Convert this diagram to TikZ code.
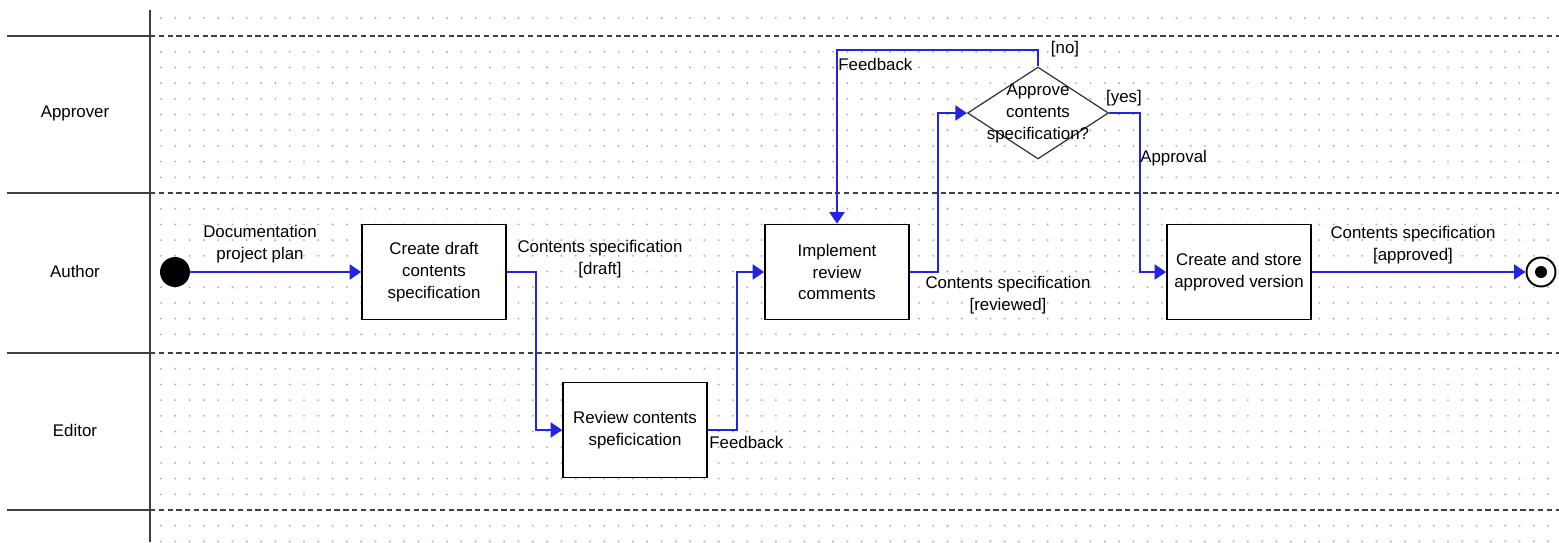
\documentclass[tikz,border=0pt]{standalone}
\usepackage{fontspec}
\setmainfont{Liberation Sans}
\usetikzlibrary{arrows.meta, shapes.geometric}

\definecolor{flowblue}{RGB}{35,35,225}
\definecolor{lanegray}{RGB}{64,64,64}
\definecolor{dotgray}{RGB}{175,175,175}

\begin{document}
\begin{tikzpicture}[x=0.02cm, y=-0.02cm, font=\fontsize{9.6pt}{12.5pt}\selectfont]

    % --- Grundeinstellungen für Styles ---
    \tikzset{
        lane/.style={draw=lanegray, line width=1.3pt},
        lanesep/.style={draw=lanegray, line width=1pt, dash pattern=on 3pt off 2pt},
        activity/.style={draw, fill=white, line width=1pt, minimum width=2.88cm, minimum height=1.9cm, align=center, inner sep=1pt},
        decision/.style={diamond, draw=black!80, fill=white, line width=0.7pt, minimum width=2.82cm, minimum height=1.84cm, inner sep=0pt},
        flow/.style={draw=flowblue, line width=1.1pt, -{Triangle[length=6.5pt, width=8.5pt]}},
        flowlabel/.style={align=center, inner sep=0pt}
    }

    % Hintergrund und Rahmen
    \fill[white] (0,0) rectangle (1559,542);
    \useasboundingbox (0,0) rectangle (1559,542);

    % --- 1. Punktraster ---
    \foreach \x in {0,...,97}
        \fill[dotgray] ({161+14.3*\x},18) circle (0.6pt);
    \foreach \top/\n in {36/9, 193/9, 353/9, 510/2}
        \foreach \k in {1,...,\n}
            \foreach \x in {0,...,97}
                \fill[dotgray] ({161+14.3*\x},{\top+15.7*\k}) circle (0.6pt);

    % --- 2. Swimlanes ---
    \draw[lane] (150,10) -- (150,542);
    \foreach \y in {36,193,353,510} {
        \draw[lane] (7,\y) -- (150,\y);
        \draw[lanesep] (150,\y) -- (1559,\y);
    }
    \node (approver) at (75,113) {Approver};
    \node (author) at (75,271) {Author};
    \node (editor) at (75,430) {Editor};

    % --- 3. Aktivitäten ---
    \node[circle, fill=black, minimum size=0.6cm, inner sep=0pt] (start) at (175,272) {};
    \node[activity] (draft) at (434,272) {Create draft\\contents\\specification};
    \node[activity] (review) at (635,430) {Review contents\\speficication};
    \node[activity] (implement) at (837,272) {Implement\\review\\comments};
    \node[decision, label={[align=center]center:Approve\\contents\\specification?}] (approve) at (1038,113) {};
    \node[activity] (store) at (1239,272) {Create and store\\approved version};
    \node[circle, draw, fill=white, line width=1.1pt, minimum size=0.58cm, inner sep=0pt] (final) at (1541,272) {};
    \fill (final) circle (0.12cm);

    % --- 4. Kontrollfluss (blau) ---
    \draw[flow] (start.east) -- (draft.west);
    \draw[flow] (draft.east) -- ++(29,0) |- (review.west);
    \draw[flow] (review.east) -- ++(29,0) |- (implement.west);
    \draw[flow] (implement.east) -- ++(28,0) |- (approve.west);
    \draw[flow] (approve.north) -- ++(0,-16) -| (implement.north);
    \draw[flow] (approve.east) -- ++(31,0) |- (store.west);
    \draw[flow] (store.east) -- (final.west);

    % --- 5. Beschriftungen ---
    % eckige Klammern nach \\ in geschweifte Klammern setzen
    \node[flowlabel] at (260,244) {Documentation\\project plan};
    \node[flowlabel] at (600,259) {Contents specification\\{[draft]}};
    \node[flowlabel, anchor=west] at (709,442) {Feedback};
    \node[flowlabel] at (1008,295) {Contents specification\\{[reviewed]}};
    \node[flowlabel, anchor=west] at (838,64) {Feedback};
    \node[flowlabel] at (1065,49) {[no]};
    \node[flowlabel] at (1124,98) {[yes]};
    \node[flowlabel, anchor=west] at (1140,158) {Approval};
    \node[flowlabel] at (1413,245) {Contents specification\\{[approved]}};

\end{tikzpicture}
\end{document}
